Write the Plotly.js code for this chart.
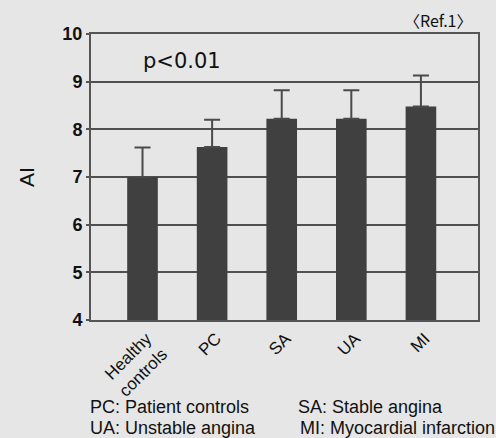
<!DOCTYPE html>
<html>
<head>
<meta charset="utf-8">
<script src="https://cdn.plot.ly/plotly-3.0.1.min.js"></script>
<style>
  html, body { margin: 0; padding: 0; background: #e6e6e6; }
  #chart { width: 496px; height: 438px; }
</style>
</head>
<body>
<div id="chart"></div>
<script>
// Augmentation index (AI) by patient group, mean with upper SD
const groups = ["Healthy<br>controls", "PC", "SA", "UA", "MI"];
const aiMean = [7.0, 7.63, 8.22, 8.22, 8.48];
const aiSD = [0.62, 0.57, 0.6, 0.6, 0.65];
const yTicks = [4, 5, 6, 7, 8, 9, 10];

const ink = "#111111";
const frame = "#555555";

const trace = {
  type: "bar",
  x: groups,
  y: aiMean,
  width: 0.44,
  marker: { color: "#404040", line: { width: 0 } },
  error_y: {
    type: "data",
    symmetric: false,
    array: aiSD,
    arrayminus: aiSD.map(() => 0),
    color: "#4a4a4a",
    thickness: 2,
    width: 8
  },
  hoverinfo: "skip"
};

const layout = {
  width: 496,
  height: 438,
  margin: { l: 91, r: 18, t: 34, b: 118 },
  paper_bgcolor: "#e6e6e6",
  plot_bgcolor: "#e6e6e6",
  showlegend: false,
  font: { family: "Liberation Sans, Arial, sans-serif", color: ink },
  xaxis: {
    type: "category",
    range: [-0.74, 4.82],
    tickangle: -45,
    tickfont: { size: 17, color: ink },
    ticklabelshift: 4,
    ticks: "",
    showgrid: false,
    showline: true,
    mirror: true,
    linecolor: frame,
    linewidth: 2,
    zeroline: false
  },
  yaxis: {
    range: [4, 10],
    tickvals: yTicks,
    ticktext: yTicks.map(String),
    tickfont: { size: 18, color: ink, weight: "bold" },
    ticks: "outside",
    ticklen: 3,
    tickwidth: 2,
    tickcolor: frame,
    showgrid: true,
    gridcolor: "#505050",
    gridwidth: 2,
    showline: true,
    mirror: true,
    linecolor: frame,
    linewidth: 2,
    zeroline: false,
    title: { text: "AI", font: { size: 21, color: ink }, standoff: 22 }
  },
  annotations: [
    { text: "p<0.01", xref: "paper", yref: "paper", x: 0.13, y: 0.905,
      xanchor: "left", yanchor: "middle", showarrow: false,
      font: { size: 21, color: ink, family: "DejaVu Sans, sans-serif" } },
    { text: "〈Ref.1〉", xref: "paper", yref: "paper", x: 0.99, y: 1.05,
      xanchor: "right", yanchor: "middle", showarrow: false,
      font: { size: 16, color: ink, family: "Noto Sans CJK JP, Liberation Sans, sans-serif" } },
    { text: "PC: Patient controls", xref: "paper", yref: "paper", x: -0.008, y: -0.305,
      xanchor: "left", yanchor: "middle", showarrow: false, font: { size: 18, color: ink } },
    { text: "SA: Stable angina", xref: "paper", yref: "paper", x: 0.53, y: -0.305,
      xanchor: "left", yanchor: "middle", showarrow: false, font: { size: 18, color: ink } },
    { text: "UA: Unstable angina", xref: "paper", yref: "paper", x: -0.008, y: -0.378,
      xanchor: "left", yanchor: "middle", showarrow: false, font: { size: 18, color: ink } },
    { text: "MI: Myocardial infarction", xref: "paper", yref: "paper", x: 0.535, y: -0.378,
      xanchor: "left", yanchor: "middle", showarrow: false, font: { size: 18, color: ink } }
  ]
};

Plotly.newPlot("chart", [trace], layout, { displayModeBar: false, staticPlot: true });
</script>
</body>
</html>
